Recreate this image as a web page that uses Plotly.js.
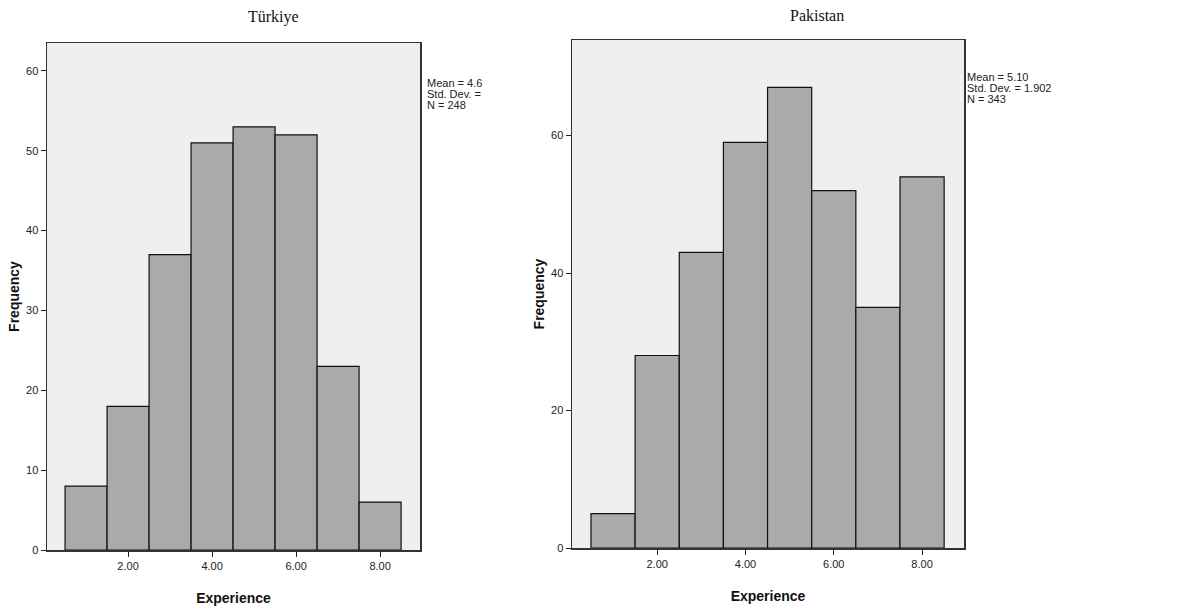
<!DOCTYPE html>
<html>
<head>
<meta charset="utf-8">
<script src="https://cdn.plot.ly/plotly-3.0.1.min.js"></script>
<style>html,body{margin:0;padding:0;background:#fff;}#chart{width:1190px;height:612px;}</style>
</head>
<body>
<div id="chart"></div>
<script>
// Data
const binCenters = [1, 2, 3, 4, 5, 6, 7, 8];
const turkiyeFreq = [8, 18, 37, 51, 53, 52, 23, 6];
const pakistanFreq = [5, 28, 43, 59, 67, 52, 35, 54];
const xTickVals = [2, 4, 6, 8];
const xTickText = ["2.00", "4.00", "6.00", "8.00"];
const turkiyeYTicks = [0, 10, 20, 30, 40, 50, 60];
const pakistanYTicks = [0, 20, 40, 60];
const titles = ["Türkiye", "Pakistan"];
const turkiyeStats = ["Mean = 4.6", "Std. Dev. =", "N = 248"];
const pakistanStats = ["Mean = 5.10", "Std. Dev. = 1.902", "N = 343"];

const barStyle = {color: '#aaaaaa', line: {color: '#111', width: 1.2}};

const traces = [
  {type: 'bar', x: binCenters, y: turkiyeFreq, width: 1, marker: barStyle, xaxis: 'x', yaxis: 'y', hoverinfo: 'x+y'},
  {type: 'bar', x: binCenters, y: pakistanFreq, width: 1, marker: barStyle, xaxis: 'x2', yaxis: 'y2', hoverinfo: 'x+y'}
];

const tickFont = {family: 'Liberation Sans, Arial, sans-serif', size: 11, color: '#222'};
const axTitleFont = {family: 'Liberation Sans, Arial, sans-serif', size: 14, color: '#111', weight: 'bold'};

function xAxis(domain, anchor) {
  return {
    domain: domain, anchor: anchor, range: [0.07, 8.95],
    tickvals: xTickVals, ticktext: xTickText, ticks: 'outside', ticklen: 5, tickcolor: '#222',
    showline: true, linecolor: '#333', linewidth: 1.5, mirror: true, showgrid: false, zeroline: false,
    tickfont: tickFont,
    title: {text: '<b>Experience</b>', font: axTitleFont, standoff: 22}
  };
}
function yAxis(domain, anchor, range, ticks) {
  return {
    domain: domain, anchor: anchor, range: range,
    tickvals: ticks, ticks: 'outside', ticklen: 5, tickcolor: '#222',
    showline: true, linecolor: '#333', linewidth: 1.5, mirror: true, showgrid: false, zeroline: false,
    tickfont: tickFont,
    title: {text: '<b>Frequency</b>', font: axTitleFont, standoff: 3}
  };
}

function statAnnotations(lines, xPx, yTopPx) {
  return lines.map((t, i) => ({
    text: t, xref: 'paper', yref: 'paper', x: xPx / 1190, y: 1 - (yTopPx + i * 11) / 612,
    xanchor: 'left', yanchor: 'middle', align: 'left', showarrow: false,
    font: {family: 'Liberation Sans Narrow, Liberation Sans, Arial, sans-serif', size: 11, color: '#222'}
  }));
}

const layout = {
  width: 1190, height: 612,
  margin: {l: 0, r: 0, t: 0, b: 0},
  paper_bgcolor: '#ffffff',
  plot_bgcolor: '#efefef',
  showlegend: false,
  bargap: 0,
  xaxis: xAxis([47/1190, 420/1190], 'y'),
  yaxis: yAxis([62/612, 569/612], 'x', [0, 63.5], turkiyeYTicks),
  xaxis2: xAxis([572/1190, 964/1190], 'y2'),
  yaxis2: yAxis([64/612, 572/612], 'x2', [0, 73.9], pakistanYTicks),
  annotations: [
    {text: titles[0], xref: 'paper', yref: 'paper', x: 273/1190, y: 1 - 17/612, xanchor: 'center', yanchor: 'middle', showarrow: false,
     font: {family: 'Liberation Serif, Times New Roman, serif', size: 16, color: '#111'}},
    {text: titles[1], xref: 'paper', yref: 'paper', x: 817/1190, y: 1 - 15/612, xanchor: 'center', yanchor: 'middle', showarrow: false,
     font: {family: 'Liberation Serif, Times New Roman, serif', size: 16, color: '#111'}}
  ].concat(statAnnotations(turkiyeStats, 425, 83), statAnnotations(pakistanStats, 965, 77))
};

Plotly.newPlot('chart', traces, layout, {displayModeBar: false, staticPlot: true});
</script>
</body>
</html>
